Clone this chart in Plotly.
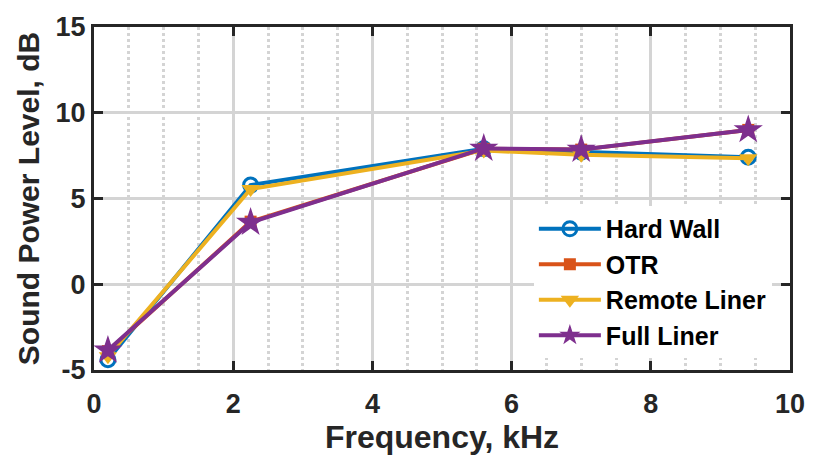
import plotly.graph_objects as go

freq = [0.2, 2.25, 5.6, 7.0, 9.4]
hard_wall = [-4.4, 5.78, 7.9, 7.7, 7.4]
otr = [-3.9, 3.65, 7.9, 7.85, 9.0]
remote_liner = [-4.2, 5.55, 7.8, 7.55, 7.35]
full_liner = [-3.85, 3.6, 7.92, 7.86, 9.0]

names = ["Hard Wall", "OTR", "Remote Liner", "Full Liner"]
colors = ["#0072BD", "#D95319", "#EDB120", "#7E2F8E"]
symbols = ["circle-open", "square", "triangle-down", "star"]
msizes = [14, 12, 16, 22]
series = [hard_wall, otr, remote_liner, full_liner]

fig = go.Figure()
for name, ys, c, s, ms in zip(names, series, colors, symbols, msizes):
    fig.add_trace(go.Scatter(
        x=freq, y=ys, name=name, mode="lines+markers",
        line=dict(color=c, width=4),
        marker=dict(symbol=s, size=ms, color=c,
                    line=dict(color=c, width=3 if s == "circle-open" else 0)),
    ))

font_family = "Liberation Sans, Arial, sans-serif"
axis_color = "#262626"

fig.update_layout(
    width=817, height=463,
    margin=dict(l=94, r=20, t=19, b=93),
    paper_bgcolor="white", plot_bgcolor="white",
    font=dict(family=font_family, size=27, color=axis_color),
    showlegend=True,
    legend=dict(
        x=0.632, y=0.035, xanchor="left", yanchor="bottom",
        bgcolor="white", borderwidth=0,
        font=dict(family=font_family, size=25, color="black", weight="bold"),
        tracegroupgap=0, itemwidth=62,
    ),
)

fig.update_xaxes(
    range=[0, 10], tickvals=[0, 2, 4, 6, 8, 10],
    ticktext=["0", "2", "4", "6", "8", "10"],
    tickfont=dict(size=27, weight="bold", color=axis_color),
    ticklabelstandoff=8,
    title=dict(text="Frequency, kHz", font=dict(size=32, weight="bold", color=axis_color), standoff=4),
    showline=True, linecolor=axis_color, linewidth=3, mirror="ticks",
    ticks="inside", ticklen=9, tickwidth=3, tickcolor=axis_color,
    showgrid=True, gridcolor="#d4d4d4", gridwidth=3,
    zeroline=False,
    minor=dict(dtick=0.5, showgrid=True, gridcolor="#d4d4d4", gridwidth=2.5, griddash="dot", ticks=""),
)
fig.update_yaxes(
    range=[-5, 15], tickvals=[-5, 0, 5, 10, 15],
    ticktext=["-5", "0", "5", "10", "15"],
    tickfont=dict(size=27, weight="bold", color=axis_color),
    title=dict(text="Sound Power Level, dB", font=dict(size=30, weight="bold", color=axis_color), standoff=8),
    showline=True, linecolor=axis_color, linewidth=3, mirror="ticks",
    ticks="inside", ticklen=9, tickwidth=3, tickcolor=axis_color,
    showgrid=True, gridcolor="#d4d4d4", gridwidth=3,
    zeroline=False,
)

fig.write_html("out.html")
